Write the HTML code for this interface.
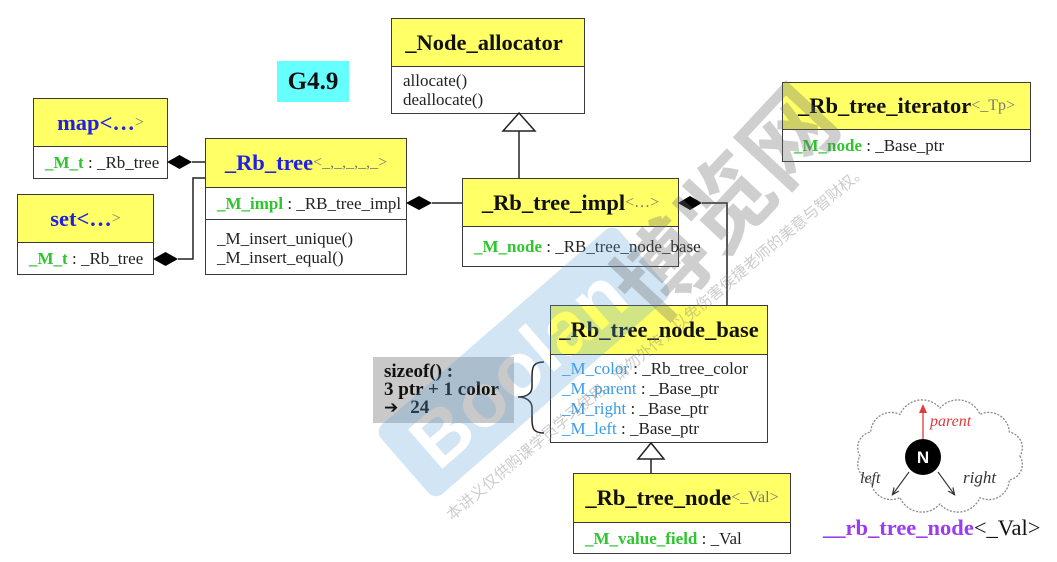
<!DOCTYPE html>
<html><head><meta charset="utf-8">
<style>
html,body{margin:0;padding:0;}
body{width:1057px;height:562px;position:relative;overflow:hidden;background:#fff;font-family:"Liberation Serif","Noto Serif CJK SC",serif;}
.box{position:absolute;border:1.5px solid #3a3a3a;background:#fff;box-sizing:border-box;display:flex;flex-direction:column;}
.hd{background:#ffff66;border-bottom:1.5px solid #3a3a3a;box-sizing:border-box;display:flex;align-items:center;justify-content:center;font-weight:bold;font-size:22.5px;color:#111;white-space:nowrap;flex:none;}
.sec{display:flex;flex-direction:column;justify-content:center;padding-left:11px;font-size:17px;line-height:19px;color:#222;white-space:nowrap;box-sizing:border-box;}
.sec2{border-top:1.5px solid #3a3a3a;}
.blue{color:#1f1fe6;}
.ga{color:#777;font-weight:normal;font-size:16px;}
.gr{color:#2ec52e;font-weight:bold;}
.lb{color:#3a9be8;}
</style></head>
<body>

<!-- G4.9 -->
<div style="position:absolute;left:277px;top:61px;width:72px;height:41px;background:#66ffff;display:flex;align-items:center;justify-content:center;font-weight:bold;font-size:25px;color:#111;">G4.9</div>

<!-- map -->
<div class="box" style="left:33px;top:98px;width:135px;height:81px;">
  <div class="hd" style="height:48px;"><span class="blue">map&lt;…</span><span class="ga">&gt;</span></div>
  <div class="sec" style="flex:1;"><div><span class="gr">_M_t</span> : _Rb_tree</div></div>
</div>

<!-- set -->
<div class="box" style="left:17px;top:194px;width:137px;height:81px;">
  <div class="hd" style="height:48px;"><span class="blue">set&lt;…</span><span class="ga">&gt;</span></div>
  <div class="sec" style="flex:1;"><div><span class="gr">_M_t</span> : _Rb_tree</div></div>
</div>

<!-- _Rb_tree -->
<div class="box" style="left:205px;top:138px;width:202px;height:137px;">
  <div class="hd" style="height:49px;"><span class="blue">_Rb_tree</span><span class="ga">&lt;_,_,_,_,_&gt;</span></div>
  <div class="sec" style="height:31px;"><div><span class="gr">_M_impl</span> : _RB_tree_impl</div></div>
  <div class="sec sec2" style="flex:1;padding-top:1px;"><div>_M_insert_unique()</div><div>_M_insert_equal()</div></div>
</div>

<!-- _Node_allocator -->
<div class="box" style="left:391px;top:18px;width:194px;height:96px;">
  <div class="hd" style="height:48px;padding-right:8px;">_Node_allocator</div>
  <div class="sec" style="flex:1;"><div>allocate()</div><div>deallocate()</div></div>
</div>

<!-- _Rb_tree_impl -->
<div class="box" style="left:462px;top:178px;width:217px;height:89px;">
  <div class="hd" style="height:48px;">_Rb_tree_impl<span class="ga">&lt;…&gt;</span></div>
  <div class="sec" style="flex:1;"><div><span class="gr">_M_node</span> : _RB_tree_node_base</div></div>
</div>

<!-- _Rb_tree_iterator -->
<div class="box" style="left:782px;top:82px;width:249px;height:80px;">
  <div class="hd" style="height:47px;">_Rb_tree_iterator<span class="ga">&lt;_Tp&gt;</span></div>
  <div class="sec" style="flex:1;"><div><span class="gr">_M_node</span> : _Base_ptr</div></div>
</div>

<!-- _Rb_tree_node_base -->
<div class="box" style="left:550px;top:305px;width:218px;height:138px;">
  <div class="hd" style="height:49px;">_Rb_tree_node_base</div>
  <div class="sec" style="flex:1;line-height:20px;"><div><span class="lb">_M_color</span> : _Rb_tree_color</div><div><span class="lb">_M_parent</span> : _Base_ptr</div><div><span class="lb">_M_right</span> : _Base_ptr</div><div><span class="lb">_M_left</span> : _Base_ptr</div></div>
</div>

<!-- _Rb_tree_node -->
<div class="box" style="left:573px;top:473px;width:218px;height:81px;">
  <div class="hd" style="height:49px;">_Rb_tree_node<span class="ga">&lt;_Val&gt;</span></div>
  <div class="sec" style="flex:1;"><div><span class="gr">_M_value_field</span> : _Val</div></div>
</div>

<!-- sizeof box -->
<div style="position:absolute;left:373px;top:357px;width:141px;height:66px;background:#c9c9c9;box-sizing:border-box;padding:6px 0 0 11px;font-weight:bold;font-size:19px;line-height:18px;color:#111;white-space:nowrap;">
  <div>sizeof() :</div>
  <div>3 ptr + 1 color</div>
  <div><span style="font-family:'DejaVu Sans',sans-serif;font-size:17px;">➔</span><span style="margin-left:12px;">24</span></div>
</div>

<svg width="1057" height="562" style="position:absolute;left:0;top:0;" xmlns="http://www.w3.org/2000/svg">
  <defs>
    <marker id="ah" markerWidth="8" markerHeight="8" refX="6" refY="4" orient="auto" markerUnits="userSpaceOnUse">
      <path d="M0,1 L7,4 L0,7" fill="none" stroke="#333" stroke-width="1.2"/>
    </marker>
  </defs>
  <g stroke="#222" stroke-width="1.5" fill="none">
    <path d="M192 162 H205"/>
    <path d="M178 259 H193 V178 H205"/>
    <path d="M432 203 H462"/>
    <path d="M702 203 H727 V305"/>
    <path d="M519 131 V178"/>
    <path d="M651 459 V473"/>
    <path d="M544 362 C533 362 532 367 532 377 L532 387 C532 394 526 397 518 397 C526 397 532 401 532 408 L532 419 C532 428 533 433 544 433"/>
  </g>
  <g fill="#000">
    <polygon points="167,162 179.5,155 192,162 179.5,169"/>
    <polygon points="153,259 165.5,252 178,259 165.5,266"/>
    <polygon points="406,203 419,196 432,203 419,210"/>
    <polygon points="678,203 690,196 702,203 690,210"/>
  </g>
  <polygon points="519,113 503,131 535,131" fill="#fff" stroke="#222" stroke-width="1.5"/>
  <polygon points="651,443 638,459 664,459" fill="#fff" stroke="#222" stroke-width="1.5"/>

  <!-- cloud -->
  <path d="M1020 456 A16 16 0 0 1 1009.3 480 A20.5 20.5 0 0 1 980 497.6 A24 24 0 0 1 940 504 A24 24 0 0 1 900 497.6 A20.5 20.5 0 0 1 870.7 480 A16 16 0 0 1 860 456 A16 16 0 0 1 870.7 432 A20.5 20.5 0 0 1 900 414.4 A24 24 0 0 1 940 408 A24 24 0 0 1 980 414.4 A20.5 20.5 0 0 1 1009.3 432 A16 16 0 0 1 1020 456 Z" fill="#fff" stroke="#8a8a8a" stroke-width="1.3" stroke-dasharray="2 1.5"/>
  <line x1="923" y1="440" x2="923" y2="411" stroke="#e03a3a" stroke-width="1.3"/>
  <polygon points="923,404 919,413 927,413" fill="#e03a3a"/>
  <text x="930" y="426" font-family="Liberation Serif" font-style="italic" font-size="16" fill="#e03a3a">parent</text>
  <circle cx="923" cy="457" r="18" fill="#000"/>
  <text x="923" y="463" text-anchor="middle" font-family="Liberation Sans" font-weight="bold" font-size="17" fill="#fff">N</text>
  <line x1="909" y1="472" x2="893" y2="494" stroke="#333" stroke-width="1.1" marker-end="url(#ah)"/>
  <line x1="938" y1="472" x2="954" y2="494" stroke="#333" stroke-width="1.1" marker-end="url(#ah)"/>
  <text x="860" y="483" font-family="Liberation Serif" font-style="italic" font-size="16" fill="#333">left</text>
  <text x="963" y="483" font-family="Liberation Serif" font-style="italic" font-size="17" fill="#333">right</text>
  <text x="823" y="535" font-family="Liberation Serif" font-size="22.5"><tspan font-weight="bold" fill="#9a3cf0">__rb_tree_node</tspan><tspan fill="#111">&lt;_Val&gt;</tspan></text>
</svg>

<!-- watermarks -->
<svg width="1057" height="562" style="position:absolute;left:0;top:0;pointer-events:none;" xmlns="http://www.w3.org/2000/svg">
  <defs>
    <mask id="bm" maskUnits="userSpaceOnUse" x="-250" y="-120" width="500" height="240">
      <rect x="-250" y="-120" width="500" height="240" fill="#fff"/>
      <text x="-8" y="27" text-anchor="middle" font-family="Liberation Sans" font-weight="bold" font-size="76" fill="#000">Boolan</text>
    </mask>
  </defs>
  <g transform="translate(524,362) rotate(-41)">
    <rect x="-158" y="-46" width="316" height="92" rx="10" fill="rgb(90,160,215)" fill-opacity="0.28" mask="url(#bm)"/>
  </g>
  <text transform="translate(750,226) rotate(-47)" text-anchor="middle" font-family="Noto Sans CJK SC" font-weight="bold" font-size="92" fill="#6e6e6e" fill-opacity="0.33">博览网</text>
  <text transform="translate(452,521) rotate(-40)" font-family="Noto Sans CJK SC" font-size="15.5" fill="#808080" fill-opacity="0.4">本讲义仅供购课学员学习使用，请勿外传，以免伤害侯捷老师的美意与智财权。</text>
</svg>

</body></html>
